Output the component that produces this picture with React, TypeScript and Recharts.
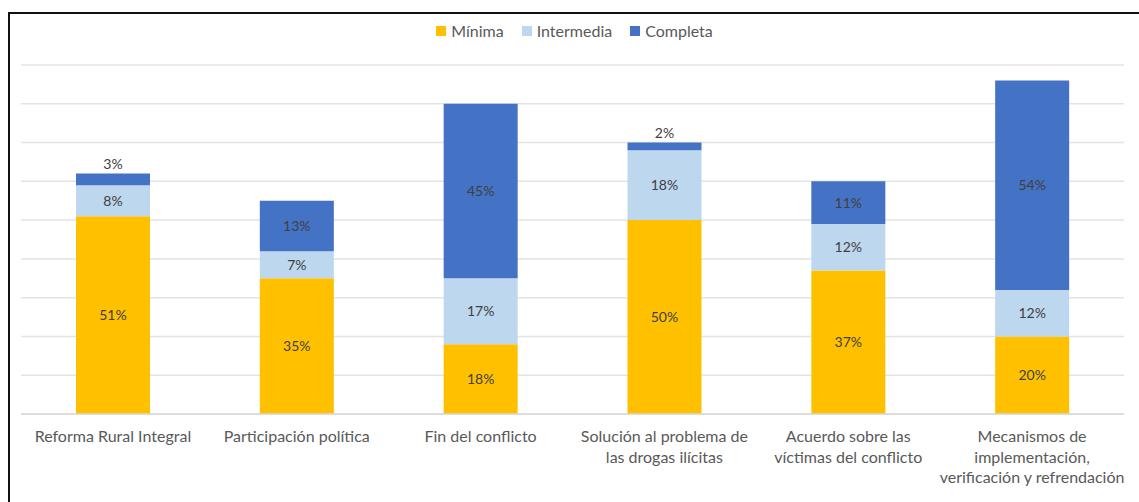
import React from "react";
import { BarChart, Bar, XAxis, YAxis, CartesianGrid, LabelList } from "recharts";

const categories = [
  "Reforma Rural Integral",
  "Participación política",
  "Fin del conflicto",
  "Solución al problema de\nlas drogas ilícitas",
  "Acuerdo sobre las\nvíctimas del conflicto",
  "Mecanismos de\nimplementación,\nverificación y refrendación",
];
const minima = [51, 35, 18, 50, 37, 20];
const intermedia = [8, 7, 17, 18, 12, 12];
const completa = [3, 13, 45, 2, 11, 54];
const seriesNames = ["Mínima", "Intermedia", "Completa"];
const seriesKeys = ["minima", "intermedia", "completa"];
const seriesColors = ["#FFC000", "#BDD7EE", "#4472C4"];
const yTicks = [0, 10, 20, 30, 40, 50, 60, 70, 80, 90];

const data = categories.map((c, i) => ({
  name: c,
  minima: minima[i],
  intermedia: intermedia[i],
  completa: completa[i],
}));

const FONT = "Lato, 'Open Sans', sans-serif";

const Tick = (props: any) => {
  const { x, y, payload } = props;
  const lines = String(payload.value).split("\n");
  return (
    <g>
      {lines.map((l, i) => (
        <text
          key={i}
          x={x}
          y={y + 20 + i * 20.5}
          textAnchor="middle"
          fill="#595959"
          fontSize={16}
          fontFamily={FONT}
        >
          {l}
        </text>
      ))}
    </g>
  );
};

const makeLabel = () => (props: any) => {
  const { x, y, width, height, value } = props;
  const small = value < 5;
  const cy = small ? y - 9 : y + height / 2;
  return (
    <text
      x={x + width / 2}
      y={cy}
      dy="0.35em"
      textAnchor="middle"
      fill="#404040"
      fontSize={14}
      fontFamily={FONT}
    >
      {value}%
    </text>
  );
};

export default function App() {
  return (
    <div
      style={{
        position: "fixed",
        left: 0,
        top: 0,
        width: 1139,
        height: 502,
        background: "#fff",
        overflow: "hidden",
      }}
    >
      <div
        style={{
          position: "absolute",
          left: 8,
          top: 12,
          width: 1200,
          height: 600,
          borderTop: "2px solid #111",
          borderLeft: "2px solid #111",
        }}
      />
      <div
        style={{
          position: "absolute",
          top: 21,
          left: 0,
          width: 1139,
          display: "flex",
          justifyContent: "center",
          fontFamily: FONT,
          fontSize: 16,
          color: "#595959",
          paddingLeft: 14,
        }}
      >
        {seriesNames.map((n, i) => (
          <div key={n} style={{ display: "flex", alignItems: "center", marginRight: 18 }}>
            <div style={{ width: 10, height: 10, background: seriesColors[i], marginRight: 5 }} />
            <span>{n}</span>
          </div>
        ))}
      </div>
      <div style={{ position: "absolute", left: 0, top: 0 }}>
        <BarChart
          width={1139}
          height={502}
          data={data}
          margin={{ top: 65, right: 15, left: 21, bottom: 8 }}
          barCategoryGap={55}
        >
          <CartesianGrid vertical={false} stroke="#e3e3e3" strokeWidth={1.5} />
          <YAxis hide domain={[0, 90]} ticks={yTicks} />
          <XAxis
            dataKey="name"
            height={80}
            tickLine={false}
            axisLine={{ stroke: "#d9d9d9", strokeWidth: 1.5 }}
            tick={<Tick />}
            interval={0}
          />
          {seriesKeys.map((k, i) => (
            <Bar key={k} dataKey={k} stackId="a" fill={seriesColors[i]} isAnimationActive={false}>
              <LabelList dataKey={k} content={makeLabel()} />
            </Bar>
          ))}
        </BarChart>
      </div>
    </div>
  );
}
